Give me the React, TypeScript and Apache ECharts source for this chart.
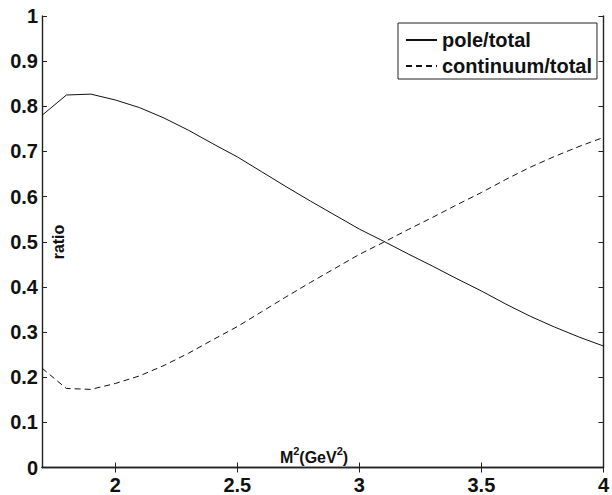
import React, { useEffect, useRef } from "react";
import * as echarts from "echarts";

const xValues = [1.7, 1.8, 1.9, 2.0, 2.1, 2.2, 2.3, 2.4, 2.5, 2.6, 2.7, 2.8, 2.9, 3.0, 3.1, 3.2, 3.3, 3.4, 3.5, 3.6, 3.7, 3.8, 3.9, 4.0];
const poleTotal = [0.780, 0.825, 0.827, 0.814, 0.797, 0.774, 0.747, 0.717, 0.688, 0.655, 0.622, 0.590, 0.559, 0.528, 0.501, 0.473, 0.446, 0.418, 0.391, 0.362, 0.335, 0.311, 0.289, 0.269];
const continuumTotal = [0.220, 0.175, 0.173, 0.186, 0.203, 0.226, 0.253, 0.283, 0.312, 0.345, 0.378, 0.410, 0.441, 0.472, 0.499, 0.527, 0.554, 0.582, 0.609, 0.638, 0.665, 0.689, 0.711, 0.731];
const xTicks = [2, 2.5, 3, 3.5, 4];
const seriesNames = ["pole/total", "continuum/total"];

const FONT = "'Liberation Sans', Arial, Helvetica, sans-serif";
const AXIS_COLOR = "#222";

export default function App() {
  const ref = useRef<HTMLDivElement>(null);
  useEffect(() => {
    if (!ref.current) return;
    const chart = echarts.init(ref.current, undefined, { renderer: "svg" });
    const axisLine = { show: true, lineStyle: { color: AXIS_COLOR, width: 1.4 } };
    const tick = { show: true, inside: true, length: 5, lineStyle: { color: AXIS_COLOR, width: 1 } };
    chart.setOption({
      animation: false,
      backgroundColor: "#fff",
      grid: { left: 42, right: 3, top: 16, bottom: 27.5, containLabel: false },
      legend: {
        orient: "vertical",
        left: 398,
        top: 23,
        padding: [7, 5, 3, 7],
        itemGap: 6,
        itemWidth: 31,
        itemHeight: 14,
        borderColor: "#222",
        borderWidth: 1,
        backgroundColor: "#fff",
        itemStyle: { color: "rgba(0,0,0,0)", borderWidth: 0, opacity: 0 },
        textStyle: { fontFamily: FONT, fontWeight: "bold", fontSize: 20, color: "#111" },
        data: seriesNames,
      },
      xAxis: [
        {
          type: "value",
          min: 1.7,
          max: 4,
          position: "bottom",
          axisLine,
          axisTick: { ...tick, customValues: xTicks },
          axisLabel: {
            customValues: xTicks,
            fontFamily: FONT,
            fontWeight: "bold",
            fontSize: 20,
            color: "#111",
            margin: 7,
          },
          splitLine: { show: false },
        },
        {
          type: "value",
          min: 1.7,
          max: 4,
          position: "top",
          axisLine,
          axisTick: { ...tick, customValues: xTicks },
          axisLabel: { show: false },
          splitLine: { show: false },
        },
      ],
      yAxis: [
        {
          type: "value",
          min: 0,
          max: 1,
          interval: 0.1,
          position: "left",
          axisLine,
          axisTick: tick,
          axisLabel: {
            fontFamily: FONT,
            fontWeight: "bold",
            fontSize: 20,
            color: "#111",
            margin: 4,
          },
          splitLine: { show: false },
        },
        {
          type: "value",
          min: 0,
          max: 1,
          interval: 0.1,
          position: "right",
          axisLine,
          axisTick: tick,
          axisLabel: { show: false },
          splitLine: { show: false },
        },
      ],
      graphic: [
        {
          type: "text",
          x: 58,
          y: 242,
          rotation: Math.PI / 2,
          style: {
            text: "ratio",
            fontFamily: FONT,
            fontWeight: "bold",
            fontSize: 16,
            fill: "#111",
            align: "center",
            verticalAlign: "middle",
          },
        },
        {
          type: "text",
          x: 314,
          y: 455,
          style: {
            text: "{a|M}{s|2}{a|(GeV}{s|2}{a|)}",
            fill: "#111",
            align: "center",
            verticalAlign: "middle",
            rich: {
              a: { fontFamily: FONT, fontWeight: "bold", fontSize: 16, fill: "#111", verticalAlign: "bottom", lineHeight: 20 },
              s: { fontFamily: FONT, fontWeight: "bold", fontSize: 11, fill: "#111", verticalAlign: "top", lineHeight: 12 },
            },
          },
        },
      ],
      series: [
        {
          name: seriesNames[0],
          type: "line",
          xAxisIndex: 0,
          yAxisIndex: 0,
          symbol: "none",
          smooth: false,
          data: xValues.map((x, i) => [x, poleTotal[i]]),
          lineStyle: { color: "#111", width: 1, type: "solid" },
          itemStyle: { color: "#111" },
        },
        {
          name: seriesNames[1],
          type: "line",
          xAxisIndex: 0,
          yAxisIndex: 0,
          symbol: "none",
          smooth: false,
          data: xValues.map((x, i) => [x, continuumTotal[i]]),
          lineStyle: { color: "#111", width: 1, type: [6, 4] },
          itemStyle: { color: "#111" },
        },
      ],
    });
    return () => chart.dispose();
  }, []);
  return (
    <div
      ref={ref}
      style={{ position: "fixed", left: 0, top: 0, width: 612, height: 495, background: "#fff" }}
    />
  );
}
